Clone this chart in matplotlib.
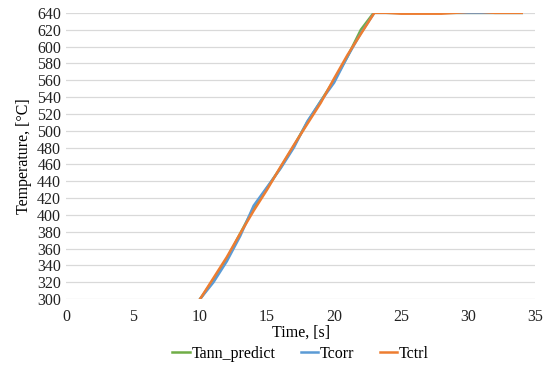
import matplotlib
matplotlib.use("Agg")
import matplotlib.pyplot as plt

plt.rcParams["font.family"] = ["Liberation Serif", "DejaVu Serif"]

time_s = list(range(10, 35))
tann_predict = [300, 323, 348, 378, 408, 432, 456, 482, 510, 535, 560, 588, 620, 641,
                640, 640, 640, 640, 640, 640, 640, 640, 640, 640, 640]
tcorr = [300, 320, 345, 375, 411, 433, 455, 480, 511, 535, 557, 588, 616, 640,
         640, 640, 640, 640, 640, 640, 640, 640, 640, 640, 640]
tctrl = [300, 325, 350, 378, 405, 430, 457, 483, 508, 533, 562, 590, 615, 640,
         640, 639, 639, 639, 639, 640, 641, 641, 640, 640, 640]

series = [("Tann_predict", tann_predict, "#70ad47"),
          ("Tcorr", tcorr, "#5b9bd5"),
          ("Tctrl", tctrl, "#ed7d31")]

fig = plt.figure(figsize=(5.5, 3.67), dpi=100)
ax = fig.add_axes([0.12, 0.185, 0.853, 0.78])

for name, vals, col in series:
    ax.plot(time_s, vals, color=col, lw=1.8, label=name)

ax.set_xlim(0, 35)
ax.set_ylim(300, 640)
ax.set_xticks(range(0, 36, 5))
ax.set_yticks(range(300, 641, 20))
ax.grid(axis="y", color="#d9d9d9", lw=0.9)
ax.set_axisbelow(True)
for s in ax.spines.values():
    s.set_visible(False)
ax.tick_params(length=0, labelsize=11.5, colors="#222222")
ax.tick_params(axis="x", pad=7)
ax.set_xlabel("Time, [s]", fontsize=11.5, labelpad=0)
ax.set_ylabel("Temperature, [°C]", fontsize=11.5, labelpad=4)

ax.legend(loc="upper center", bbox_to_anchor=(0.5, -0.125), ncol=3, frameon=False,
          fontsize=11.5, handlelength=1.1, handletextpad=0.1, columnspacing=1.6,
          borderpad=0.2)

fig.savefig("out.png", dpi=100)
